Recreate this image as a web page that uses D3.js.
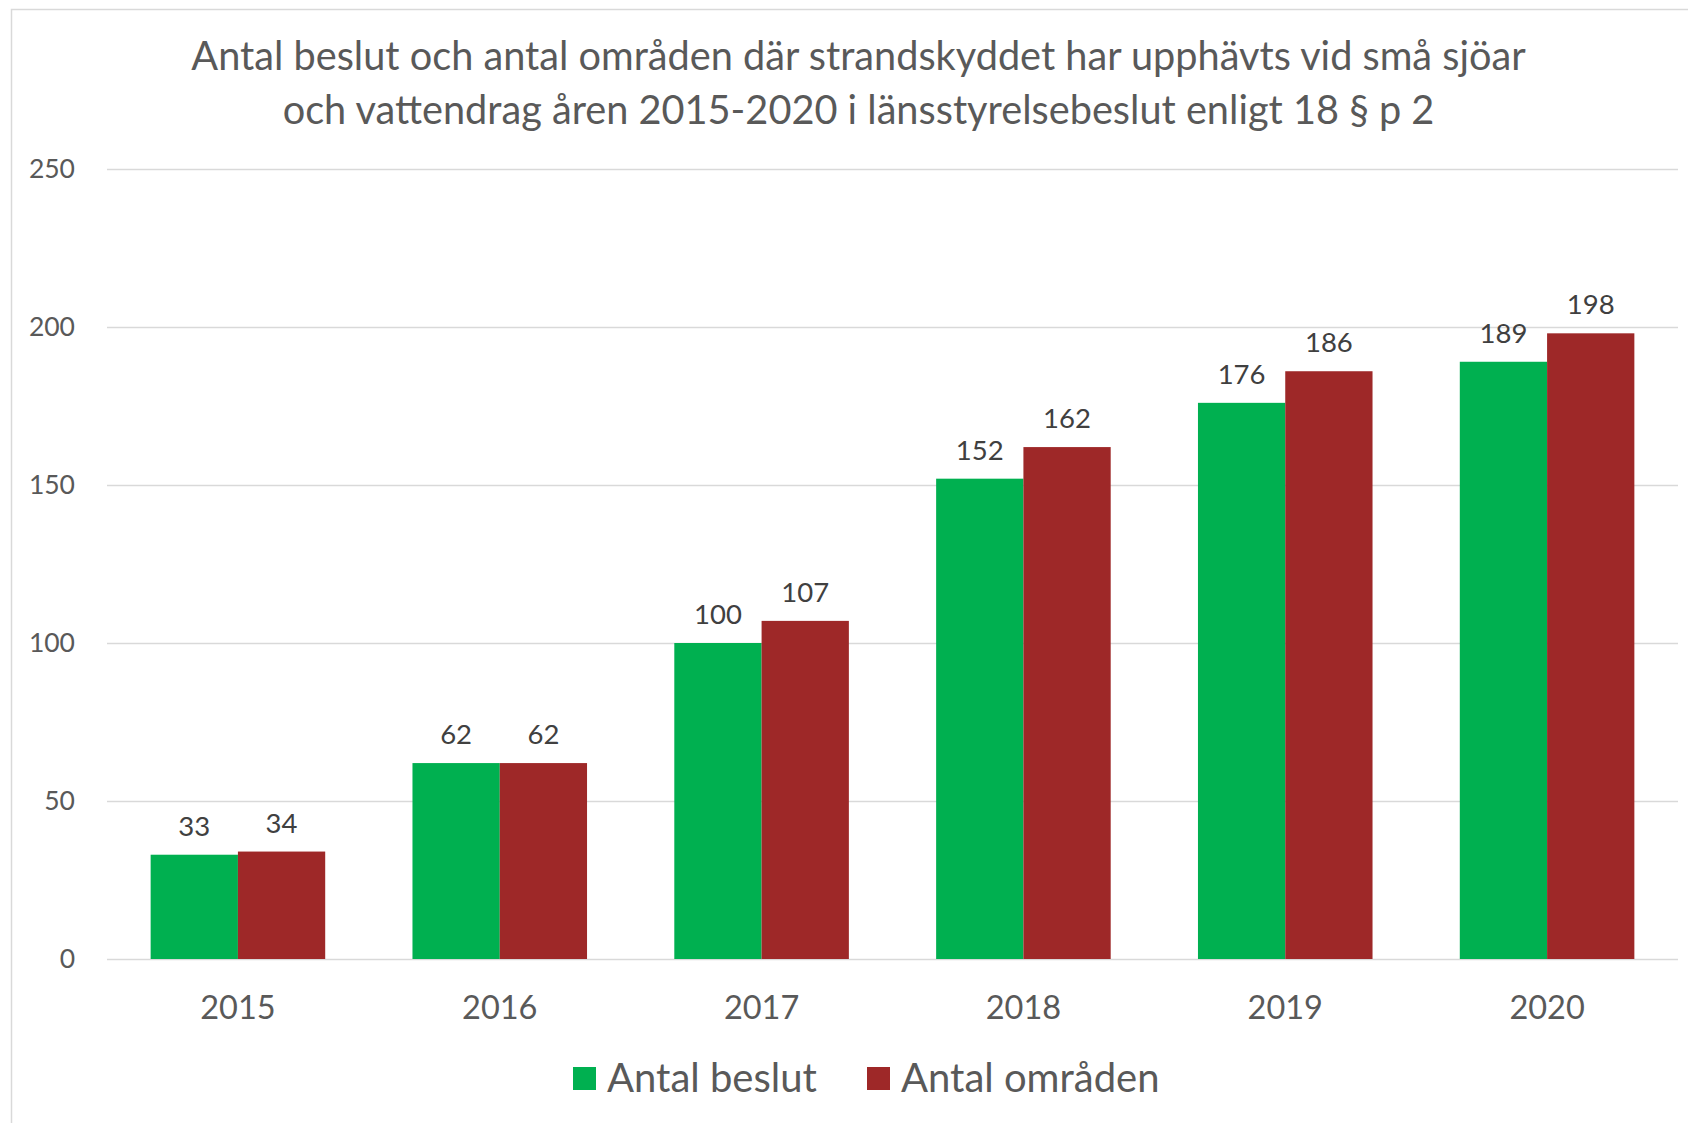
<!DOCTYPE html>
<html>
<head>
<meta charset="utf-8">
<script src="https://cdn.jsdelivr.net/npm/d3@7"></script>
<style>
  body { margin: 0; background: #fff; }
  svg { display: block; font-family: Lato, "Open Sans", sans-serif; }
</style>
</head>
<body>
<script>
// chart data
var years = ["2015", "2016", "2017", "2018", "2019", "2020"];
var beslut = [33, 62, 100, 152, 176, 189];
var omraden = [34, 62, 107, 162, 186, 198];
var seriesNames = ["Antal beslut", "Antal områden"];
var yTicks = [0, 50, 100, 150, 200, 250];
var titleLines = [
    "Antal beslut och antal områden där strandskyddet har upphävts vid små sjöar",
    "och vattendrag åren 2015-2020 i länsstyrelsebeslut enligt 18 § p 2"
];

var width = 1688, height = 1123;
var colors = ["#00B050", "#9E2828"];

var svg = d3.select('body').append('svg')
        .attr('width', width)
        .attr('height', height);

// outer chart border
svg.append('rect')
    .attr('x', 11.5).attr('y', 9.5)
    .attr('width', width).attr('height', height)
    .attr('fill', '#fff')
    .attr('stroke', '#d9d9d9')
    .attr('stroke-width', 1.5);

var plot = {left: 107, right: 1678, top: 169, bottom: 959};

var x = d3.scaleBand()
    .domain(years)
    .range([plot.left, plot.right])
    .paddingInner(0.3333)
    .paddingOuter(0.16667);

var x1 = d3.scaleBand()
    .domain([0, 1])
    .range([0, x.bandwidth()]);

var y = d3.scaleLinear()
    .domain([0, 250])
    .range([plot.bottom, plot.top]);

// title
svg.append('g').selectAll('text')
    .data(titleLines)
    .join('text')
    .attr('x', (plot.left + plot.right) / 2 - 34)
    .attr('y', function(d, i) { return 70 + i * 54; })
    .attr('text-anchor', 'middle')
    .attr('fill', '#595959')
    .attr('font-size', 39.7)
    .text(function(d) { return d; });

// gridlines + y labels
var yAxis = d3.axisLeft(y)
    .tickValues(yTicks)
    .tickSize(-(plot.right - plot.left))
    .tickPadding(32);

var gy = svg.append('g')
    .attr('transform', 'translate(' + plot.left + ',0)')
    .call(yAxis);
gy.select('.domain').remove();
gy.selectAll('.tick line').attr('stroke', '#d9d9d9').attr('stroke-width', 1.5);
gy.selectAll('.tick text')
    .attr('fill', '#595959')
    .attr('font-size', 26.5)
    .attr('font-family', 'Lato, sans-serif');

// x axis labels
var xAxis = d3.axisBottom(x).tickSize(0).tickPadding(0);
var gx = svg.append('g')
    .attr('transform', 'translate(0,' + plot.bottom + ')')
    .call(xAxis);
gx.select('.domain').remove();
gx.selectAll('.tick text')
    .attr('dy', null)
    .attr('y', 60)
    .attr('fill', '#595959')
    .attr('font-size', 32.5)
    .attr('font-family', 'Lato, sans-serif');

// bars
var rows = years.map(function(yr, i) {
    return {year: yr, vals: [beslut[i], omraden[i]]};
});

var groups = svg.append('g').selectAll('g')
    .data(rows)
    .join('g')
    .attr('transform', function(d) { return 'translate(' + x(d.year) + ',0)'; });

groups.selectAll('rect')
    .data(function(d) { return d.vals; })
    .join('rect')
    .attr('x', function(d, i) { return x1(i); })
    .attr('y', function(d) { return y(d); })
    .attr('width', x1.bandwidth())
    .attr('height', function(d) { return y(0) - y(d); })
    .attr('fill', function(d, i) { return colors[i]; });

groups.selectAll('text')
    .data(function(d) { return d.vals; })
    .join('text')
    .attr('x', function(d, i) { return x1(i) + x1.bandwidth() / 2; })
    .attr('y', function(d) { return y(d) - 19; })
    .attr('text-anchor', 'middle')
    .attr('fill', '#404040')
    .attr('font-size', 27.5)
    .text(function(d) { return d; });

// legend
var legendX = [573, 867];
var legend = svg.append('g').selectAll('g')
    .data(seriesNames)
    .join('g')
    .attr('transform', function(d, i) { return 'translate(' + legendX[i] + ',1067)'; });

legend.append('rect')
    .attr('width', 23).attr('height', 23)
    .attr('fill', function(d, i) { return colors[i]; });

legend.append('text')
    .attr('x', 34)
    .attr('y', 25)
    .attr('fill', '#595959')
    .attr('font-size', 40)
    .text(function(d) { return d; });
</script>
</body>
</html>
